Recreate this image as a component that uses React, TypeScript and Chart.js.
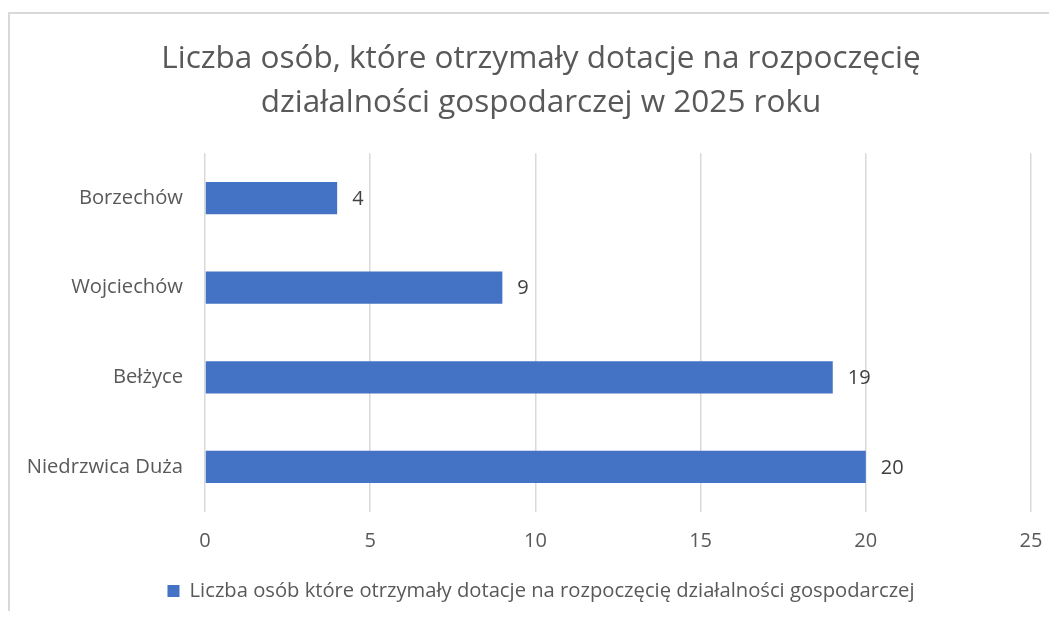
import React, { useEffect, useRef } from "react";
import { Chart, registerables } from "chart.js";

Chart.register(...registerables);

const categories = ["Borzechów", "Wojciechów", "Bełżyce", "Niedrzwica Duża"];
const values = [4, 9, 19, 20];
const seriesLabel = "Liczba osób które otrzymały dotacje na rozpoczęcię działalności gospodarczej";
const titleLines = [
  "Liczba osób, które otrzymały dotacje na rozpoczęcię",
  "działalności gospodarczej w 2025 roku",
];
const xMin = 0;
const xMax = 25;
const xStep = 5;

const FONT = "'Open Sans', sans-serif";
const TEXT = "#595959";

const borderPlugin = {
  id: "frameBorder",
  beforeDraw(chart: any) {
    const { ctx, width, height } = chart;
    ctx.save();
    ctx.strokeStyle = "#d9d9d9";
    ctx.lineWidth = 2;
    ctx.strokeRect(1, 5, width + 20, height + 20);
    ctx.restore();
  },
};

const valueLabelPlugin = {
  id: "valueLabels",
  afterDatasetsDraw(chart: any) {
    const { ctx } = chart;
    const meta = chart.getDatasetMeta(0);
    ctx.save();
    ctx.fillStyle = "#404040";
    ctx.font = `20px ${FONT}`;
    ctx.textAlign = "left";
    ctx.textBaseline = "middle";
    meta.data.forEach((bar: any, i: number) => {
      ctx.fillText(String(chart.data.datasets[0].data[i]), bar.x + 15, bar.y + 1);
    });
    ctx.restore();
  },
};

export default function App() {
  const ref = useRef<HTMLCanvasElement>(null);
  useEffect(() => {
    if (!ref.current) return;
    const chart = new Chart(ref.current, {
      type: "bar",
      data: {
        labels: categories,
        datasets: [
          {
            label: seriesLabel,
            data: values,
            backgroundColor: "#4472C4",
            categoryPercentage: 1,
            barPercentage: 0.36,
          },
        ],
      },
      options: {
        indexAxis: "y",
        responsive: false,
        animation: false,
        layout: { padding: { left: 25, right: 0, top: 0, bottom: 0 } },
        plugins: {
          title: {
            display: true,
            text: titleLines,
            color: TEXT,
            font: { family: FONT, size: 31.5, weight: "normal", lineHeight: 1.4 },
            padding: { top: 29, bottom: 28 },
          },
          legend: {
            position: "bottom",
            labels: {
              color: TEXT,
              font: { family: FONT, size: 20.2 },
              boxWidth: 12,
              boxHeight: 12,
              padding: 9,
            },
          },
          tooltip: { enabled: false },
        },
        scales: {
          x: {
            min: xMin,
            max: xMax,
            ticks: { stepSize: xStep, color: TEXT, font: { family: FONT, size: 20 }, padding: 17 },
            grid: { color: "#d9d9d9", drawTicks: false, lineWidth: 1.5 },
            border: { display: false },
            afterFit(scale: any) {
              scale.paddingRight = 18;
              scale.paddingLeft = 0;
              scale.height = 60;
            },
          },
          y: {
            ticks: { color: TEXT, font: { family: FONT, size: 20.2 }, padding: 14 },
            grid: { display: false },
            border: { display: false },
            afterFit(scale: any) {
              scale.width = 172;
              scale._computeLabelArea = () => undefined;
            },
          },
        },
      },
      plugins: [borderPlugin, valueLabelPlugin],
    });
    return () => chart.destroy();
  }, []);
  return <canvas ref={ref} width={1041} height={603} style={{ display: "block" }} />;
}
